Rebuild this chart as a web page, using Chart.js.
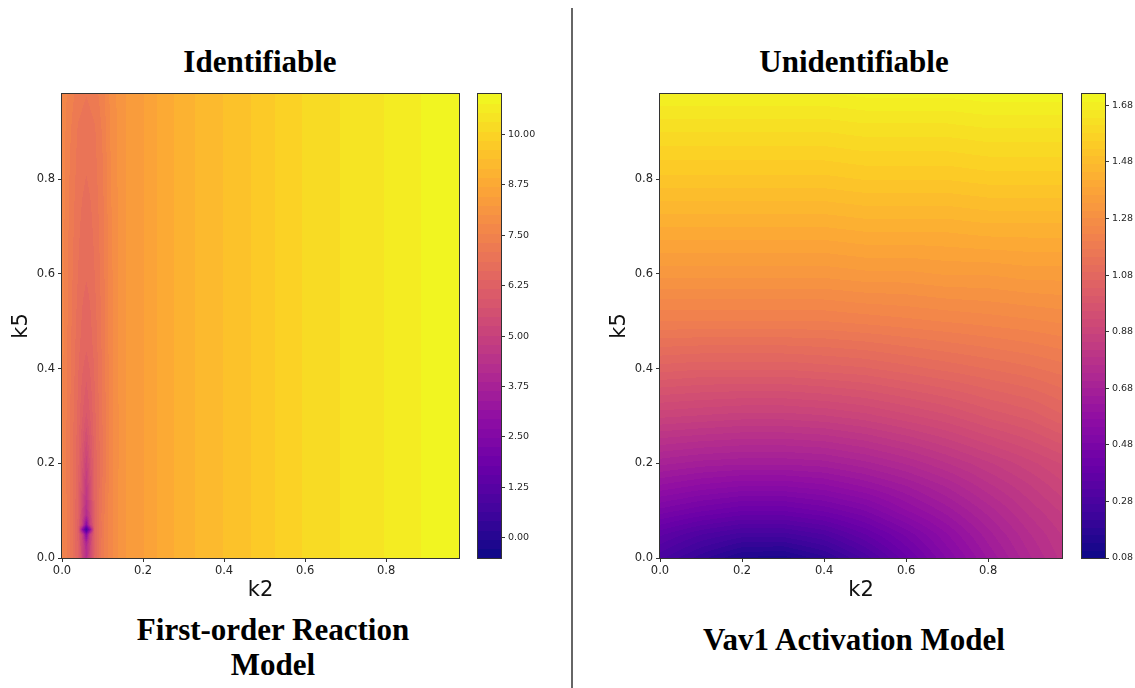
<!DOCTYPE html>
<html>
<head>
<meta charset="utf-8">
<script src="https://cdn.jsdelivr.net/npm/chart.js@4"></script>
<style>
  body { margin: 0; background: #fff; }
  #page { position: relative; width: 1135px; height: 688px; overflow: hidden; background: #fff; }
  canvas { position: absolute; }
  .ttl {
    position: absolute; width: 400px; text-align: center; white-space: nowrap;
    font-family: 'Liberation Serif', 'Times New Roman', serif; font-weight: bold;
    font-size: 31px; line-height: 36px; color: #000;
  }
  #divider { position: absolute; left: 571px; top: 8px; width: 2px; height: 680px; background: #666; }
</style>
</head>
<body>
<div id="page">
  <div class="ttl" style="left:60px;top:44px">Identifiable</div>
  <div class="ttl" style="left:654px;top:44px">Unidentifiable</div>
  <div class="ttl" style="left:73px;top:612px">First-order Reaction</div>
  <div class="ttl" style="left:73px;top:647px">Model</div>
  <div class="ttl" style="left:654px;top:622px">Vav1 Activation Model</div>
  <div id="divider"></div>

  <canvas id="leftMap" width="469" height="519" style="left:0px;top:84px"></canvas>
  <canvas id="leftBar" width="80" height="519" style="left:470px;top:84px"></canvas>
  <canvas id="rightMap" width="474" height="519" style="left:598px;top:84px"></canvas>
  <canvas id="rightBar" width="61" height="519" style="left:1074px;top:84px"></canvas>
</div>

<script>
// ========================================
// Data
// ========================================
const axisTicks = [0, 0.2, 0.4, 0.6, 0.8];

// Identifiable (first-order reaction): grid nodes and values
const leftK2 = [0, 0.02, 0.04, 0.05, 0.06, 0.07, 0.08, 0.10, 0.12, 0.15, 0.20, 0.25, 0.30,
  0.35, 0.40, 0.45, 0.50, 0.55, 0.60, 0.65, 0.70, 0.75, 0.80, 0.85, 0.90, 0.98];
const leftK5 = [0, 0.03, 0.05, 0.06, 0.07, 0.09, 0.13, 0.20, 0.30, 0.45, 0.60, 0.75, 0.90, 0.98];
// one row per k5 value (bottom to top), one column per k2 value
const leftZ = [
  [7.6, 7.1, 6.4, 5.3, 4.3, 5.3, 6.4, 7.2, 7.7, 8.2, 8.45, 8.8, 9.05, 9.25, 9.4, 9.55, 9.75, 9.95, 10.1, 10.2, 10.35, 10.45, 10.55, 10.7, 10.8, 10.95],
  [7.6, 7.1, 6.35, 5.2, 4.0, 5.2, 6.35, 7.2, 7.7, 8.2, 8.45, 8.8, 9.05, 9.25, 9.4, 9.55, 9.75, 9.95, 10.1, 10.2, 10.35, 10.45, 10.55, 10.7, 10.8, 10.95],
  [7.6, 7.1, 6.3, 5.0, 2.7, 5.0, 6.3, 7.2, 7.7, 8.2, 8.45, 8.8, 9.05, 9.25, 9.4, 9.55, 9.75, 9.95, 10.1, 10.2, 10.35, 10.45, 10.55, 10.7, 10.8, 10.95],
  [7.6, 7.1, 6.3, 3.0, 0.6, 3.0, 6.3, 7.2, 7.7, 8.2, 8.45, 8.8, 9.05, 9.25, 9.4, 9.55, 9.75, 9.95, 10.1, 10.2, 10.35, 10.45, 10.55, 10.7, 10.8, 10.95],
  [7.6, 7.1, 6.3, 5.0, 2.7, 5.0, 6.3, 7.2, 7.7, 8.2, 8.45, 8.8, 9.05, 9.25, 9.4, 9.55, 9.75, 9.95, 10.1, 10.2, 10.35, 10.45, 10.55, 10.7, 10.8, 10.95],
  [7.6, 7.1, 6.35, 5.2, 4.1, 5.2, 6.35, 7.2, 7.7, 8.2, 8.45, 8.8, 9.05, 9.25, 9.4, 9.55, 9.75, 9.95, 10.1, 10.2, 10.35, 10.45, 10.55, 10.7, 10.8, 10.95],
  [7.6, 7.1, 6.4, 5.5, 4.6, 5.5, 6.4, 7.15, 7.7, 8.2, 8.45, 8.8, 9.05, 9.25, 9.4, 9.55, 9.75, 9.95, 10.1, 10.2, 10.35, 10.45, 10.55, 10.7, 10.8, 10.95],
  [7.6, 7.05, 6.45, 5.8, 5.1, 5.8, 6.45, 7.05, 7.65, 8.2, 8.45, 8.8, 9.05, 9.25, 9.4, 9.55, 9.75, 9.95, 10.1, 10.2, 10.35, 10.45, 10.55, 10.7, 10.8, 10.95],
  [7.6, 7.1, 6.55, 6.2, 5.9, 6.2, 6.55, 7.1, 7.65, 8.2, 8.45, 8.8, 9.05, 9.25, 9.4, 9.55, 9.75, 9.95, 10.1, 10.2, 10.35, 10.45, 10.55, 10.7, 10.8, 10.95],
  [7.65, 7.15, 6.7, 6.55, 6.45, 6.55, 6.7, 7.15, 7.7, 8.2, 8.45, 8.8, 9.05, 9.25, 9.4, 9.55, 9.75, 9.95, 10.1, 10.2, 10.35, 10.45, 10.55, 10.7, 10.8, 10.95],
  [7.65, 7.2, 6.85, 6.7, 6.65, 6.7, 6.85, 7.2, 7.7, 8.2, 8.45, 8.8, 9.05, 9.25, 9.4, 9.55, 9.75, 9.95, 10.1, 10.2, 10.35, 10.45, 10.55, 10.7, 10.8, 10.95],
  [7.7, 7.25, 6.95, 6.85, 6.8, 6.85, 6.95, 7.25, 7.75, 8.2, 8.45, 8.8, 9.05, 9.25, 9.4, 9.55, 9.75, 9.95, 10.1, 10.2, 10.35, 10.45, 10.55, 10.7, 10.8, 10.95],
  [7.7, 7.35, 7.05, 7.0, 6.95, 7.0, 7.05, 7.35, 7.8, 8.2, 8.45, 8.8, 9.05, 9.25, 9.4, 9.55, 9.75, 9.95, 10.1, 10.2, 10.35, 10.45, 10.55, 10.7, 10.8, 10.95],
  [7.7, 7.45, 7.2, 7.15, 7.1, 7.15, 7.2, 7.45, 7.85, 8.2, 8.45, 8.8, 9.05, 9.25, 9.4, 9.55, 9.75, 9.95, 10.1, 10.2, 10.35, 10.45, 10.55, 10.7, 10.8, 10.95]
];
const leftBarTicks = [0, 1.25, 2.5, 3.75, 5, 6.25, 7.5, 8.75, 10];

// Unidentifiable (Vav1 activation)
const rightK2 = [0, 0.1, 0.2, 0.3, 0.4, 0.5, 0.6, 0.7, 0.8, 0.9, 0.98];
const rightK5 = [0, 0.05, 0.10, 0.15, 0.20, 0.30, 0.40, 0.50, 0.60, 0.70, 0.80, 0.90, 0.98];
const rightZ = [
  [0.28, 0.20, 0.13, 0.12, 0.18, 0.28, 0.40, 0.52, 0.63, 0.73, 0.80],
  [0.36, 0.30, 0.26, 0.26, 0.30, 0.38, 0.47, 0.57, 0.67, 0.76, 0.82],
  [0.48, 0.44, 0.41, 0.41, 0.44, 0.49, 0.57, 0.64, 0.72, 0.80, 0.85],
  [0.59, 0.56, 0.54, 0.54, 0.56, 0.60, 0.65, 0.71, 0.78, 0.84, 0.89],
  [0.69, 0.67, 0.66, 0.66, 0.67, 0.70, 0.74, 0.79, 0.84, 0.89, 0.93],
  [0.88, 0.87, 0.86, 0.86, 0.87, 0.89, 0.92, 0.95, 0.99, 1.02, 1.06],
  [1.05, 1.04, 1.04, 1.04, 1.05, 1.06, 1.08, 1.10, 1.12, 1.14, 1.16],
  [1.20, 1.20, 1.20, 1.20, 1.20, 1.21, 1.22, 1.23, 1.24, 1.25, 1.26],
  [1.32, 1.32, 1.32, 1.32, 1.32, 1.33, 1.33, 1.34, 1.34, 1.35, 1.35],
  [1.42, 1.42, 1.42, 1.42, 1.42, 1.43, 1.43, 1.43, 1.44, 1.44, 1.44],
  [1.52, 1.52, 1.52, 1.52, 1.52, 1.53, 1.53, 1.53, 1.54, 1.54, 1.54],
  [1.61, 1.61, 1.61, 1.61, 1.61, 1.62, 1.62, 1.62, 1.63, 1.63, 1.63],
  [1.69, 1.69, 1.69, 1.69, 1.69, 1.70, 1.70, 1.70, 1.71, 1.71, 1.71]
];
const rightBarTicks = [0.08, 0.28, 0.48, 0.68, 0.88, 1.08, 1.28, 1.48, 1.68];

// ========================================
// Plasma colormap
// ========================================
const plasmaStops = ['#0d0887', '#41049d', '#6a00a8', '#8f0da4', '#b12a90', '#cc4778',
  '#e16462', '#f2844b', '#fca636', '#fcce25', '#f0f921'].map(h => [
  parseInt(h.slice(1, 3), 16), parseInt(h.slice(3, 5), 16), parseInt(h.slice(5, 7), 16)]);

function plasma(t) {
  t = Math.max(0, Math.min(1, t)) * (plasmaStops.length - 1);
  const i = Math.min(plasmaStops.length - 2, Math.floor(t));
  const f = t - i, a = plasmaStops[i], b = plasmaStops[i + 1];
  return [0, 1, 2].map(k => Math.round(a[k] + (b[k] - a[k]) * f));
}

// contourf style: every band gets one flat colour
function bandColor(f, v) {
  const nMax = Math.round((f.vmax - f.vmin) / f.step) - 1;
  let n = Math.floor((v - f.vmin) / f.step);
  n = Math.max(0, Math.min(nMax, n));
  return plasma(((n + 0.5) * f.step) / (f.vmax - f.vmin));
}

function locate(p, x) {
  for (let i = 0; i < p.length - 1; i++) {
    const t = (x - p[i]) / (p[i + 1] - p[i]);
    if (t >= 0 && t <= 1) return [i, t];
  }
  const t0 = (x - p[0]) / (p[1] - p[0]);
  return t0 < 0 ? [0, 0] : [p.length - 2, 1];
}

const leftField = { xs: leftK2, ys: leftK5, z: leftZ, vmin: -0.5, vmax: 11, step: 0.23, ticks: leftBarTicks, digits: 2 };
const rightField = { xs: rightK2, ys: rightK5, z: rightZ, vmin: 0.08, vmax: 1.72, step: 0.02733, ticks: rightBarTicks, digits: 2 };

function drawFrame(chart) {
  const { ctx, chartArea: a } = chart;
  ctx.save();
  ctx.strokeStyle = '#333';
  ctx.lineWidth = 1;
  ctx.strokeRect(Math.round(a.left) - 0.5, Math.round(a.top) - 0.5,
    Math.round(a.right) - Math.round(a.left) + 1, Math.round(a.bottom) - Math.round(a.top) + 1);
  ctx.restore();
}

function fieldPlugin(f) {
  return {
    id: 'field',
    beforeDatasetsDraw(chart) {
      const { ctx, chartArea: a, scales } = chart;
      const left = Math.round(a.left), top = Math.round(a.top);
      const w = Math.round(a.right) - left, h = Math.round(a.bottom) - top;
      const px = f.xs.map(v => scales.x.getPixelForValue(v));
      const py = f.ys.map(v => scales.y.getPixelForValue(v));
      const cols = [], rows = [];
      for (let i = 0; i < w; i++) cols.push(locate(px, left + i + 0.5));
      for (let j = 0; j < h; j++) rows.push(locate(py, top + j + 0.5));
      const img = ctx.createImageData(w, h);
      for (let j = 0; j < h; j++) {
        const [r, tv] = rows[j];
        const z0 = f.z[r], z1 = f.z[r + 1];
        for (let i = 0; i < w; i++) {
          const [c, tu] = cols[i];
          const b0 = z0[c] + (z0[c + 1] - z0[c]) * tu;
          const b1 = z1[c] + (z1[c + 1] - z1[c]) * tu;
          const col = bandColor(f, b0 + (b1 - b0) * tv);
          const k = (j * w + i) * 4;
          img.data[k] = col[0]; img.data[k + 1] = col[1]; img.data[k + 2] = col[2]; img.data[k + 3] = 255;
        }
      }
      ctx.putImageData(img, left, top);
    },
    afterDraw: drawFrame
  };
}

function barPlugin(f) {
  return {
    id: 'colorbar',
    beforeDatasetsDraw(chart) {
      const { ctx, chartArea: a, scales: { y } } = chart;
      const n = Math.round((f.vmax - f.vmin) / f.step);
      ctx.save();
      for (let i = 0; i < n; i++) {
        const lo = f.vmin + i * f.step, hi = Math.min(f.vmax, lo + f.step);
        const y0 = Math.ceil(y.getPixelForValue(lo)), y1 = Math.floor(y.getPixelForValue(hi));
        const c = plasma(((i + 0.5) * f.step) / (f.vmax - f.vmin));
        ctx.fillStyle = `rgb(${c[0]},${c[1]},${c[2]})`;
        ctx.fillRect(a.left, y1, a.right - a.left, y0 - y1);
      }
      ctx.restore();
    },
    afterDraw: drawFrame
  };
}

Chart.defaults.font.family = "'DejaVu Sans', sans-serif";
Chart.defaults.color = '#262626';

const tickGrid = { drawOnChartArea: false, drawTicks: true, tickLength: 4, tickColor: '#333', tickWidth: 1 };

function makeMap(id, f) {
  return new Chart(document.getElementById(id), {
    type: 'scatter',
    data: { datasets: [{ data: [] }] },
    plugins: [fieldPlugin(f)],
    options: {
      animation: false, responsive: false, maintainAspectRatio: false,
      layout: { padding: { top: 10, right: 10 } },
      plugins: { legend: { display: false }, tooltip: { enabled: false } },
      scales: {
        x: {
          type: 'linear', min: 0, max: 0.98,
          afterFit: s => { s.height = 45; },
          afterBuildTicks: s => { s.ticks = axisTicks.map(v => ({ value: v })); },
          ticks: { autoSkip: false, maxRotation: 0, padding: 2, font: { size: 11.5 }, callback: v => Number(v).toFixed(1) },
          grid: tickGrid, border: { display: false },
          title: { display: true, text: 'k2', font: { size: 21 }, padding: { top: 0, bottom: 0 }, color: '#111' }
        },
        y: {
          type: 'linear', min: 0, max: 0.98,
          afterFit: s => { s.width = 62; },
          afterBuildTicks: s => { s.ticks = axisTicks.map(v => ({ value: v })); },
          ticks: { autoSkip: false, padding: 3, font: { size: 11.5 }, callback: v => Number(v).toFixed(1) },
          grid: tickGrid, border: { display: false },
          title: { display: true, text: 'k5', font: { size: 21 }, padding: { top: 9, bottom: 0 }, color: '#111' }
        }
      }
    }
  });
}

function makeBar(id, f, axisWidth) {
  return new Chart(document.getElementById(id), {
    type: 'scatter',
    data: { datasets: [{ data: [] }] },
    plugins: [barPlugin(f)],
    options: {
      animation: false, responsive: false, maintainAspectRatio: false,
      layout: { padding: { top: 10, bottom: 45, left: 8 } },
      plugins: { legend: { display: false }, tooltip: { enabled: false } },
      scales: {
        x: { display: false, min: 0, max: 1 },
        y: {
          type: 'linear', position: 'right', min: f.vmin, max: f.vmax,
          afterFit: s => { s.width = axisWidth; },
          afterBuildTicks: s => { s.ticks = f.ticks.map(v => ({ value: v })); },
          ticks: { autoSkip: false, padding: 3, font: { size: 9.5 }, callback: v => Number(v).toFixed(f.digits) },
          grid: tickGrid, border: { display: false }
        }
      }
    }
  });
}

makeMap('leftMap', leftField);
makeBar('leftBar', leftField, 49);
makeMap('rightMap', rightField);
makeBar('rightBar', rightField, 30);
</script>
</body>
</html>
